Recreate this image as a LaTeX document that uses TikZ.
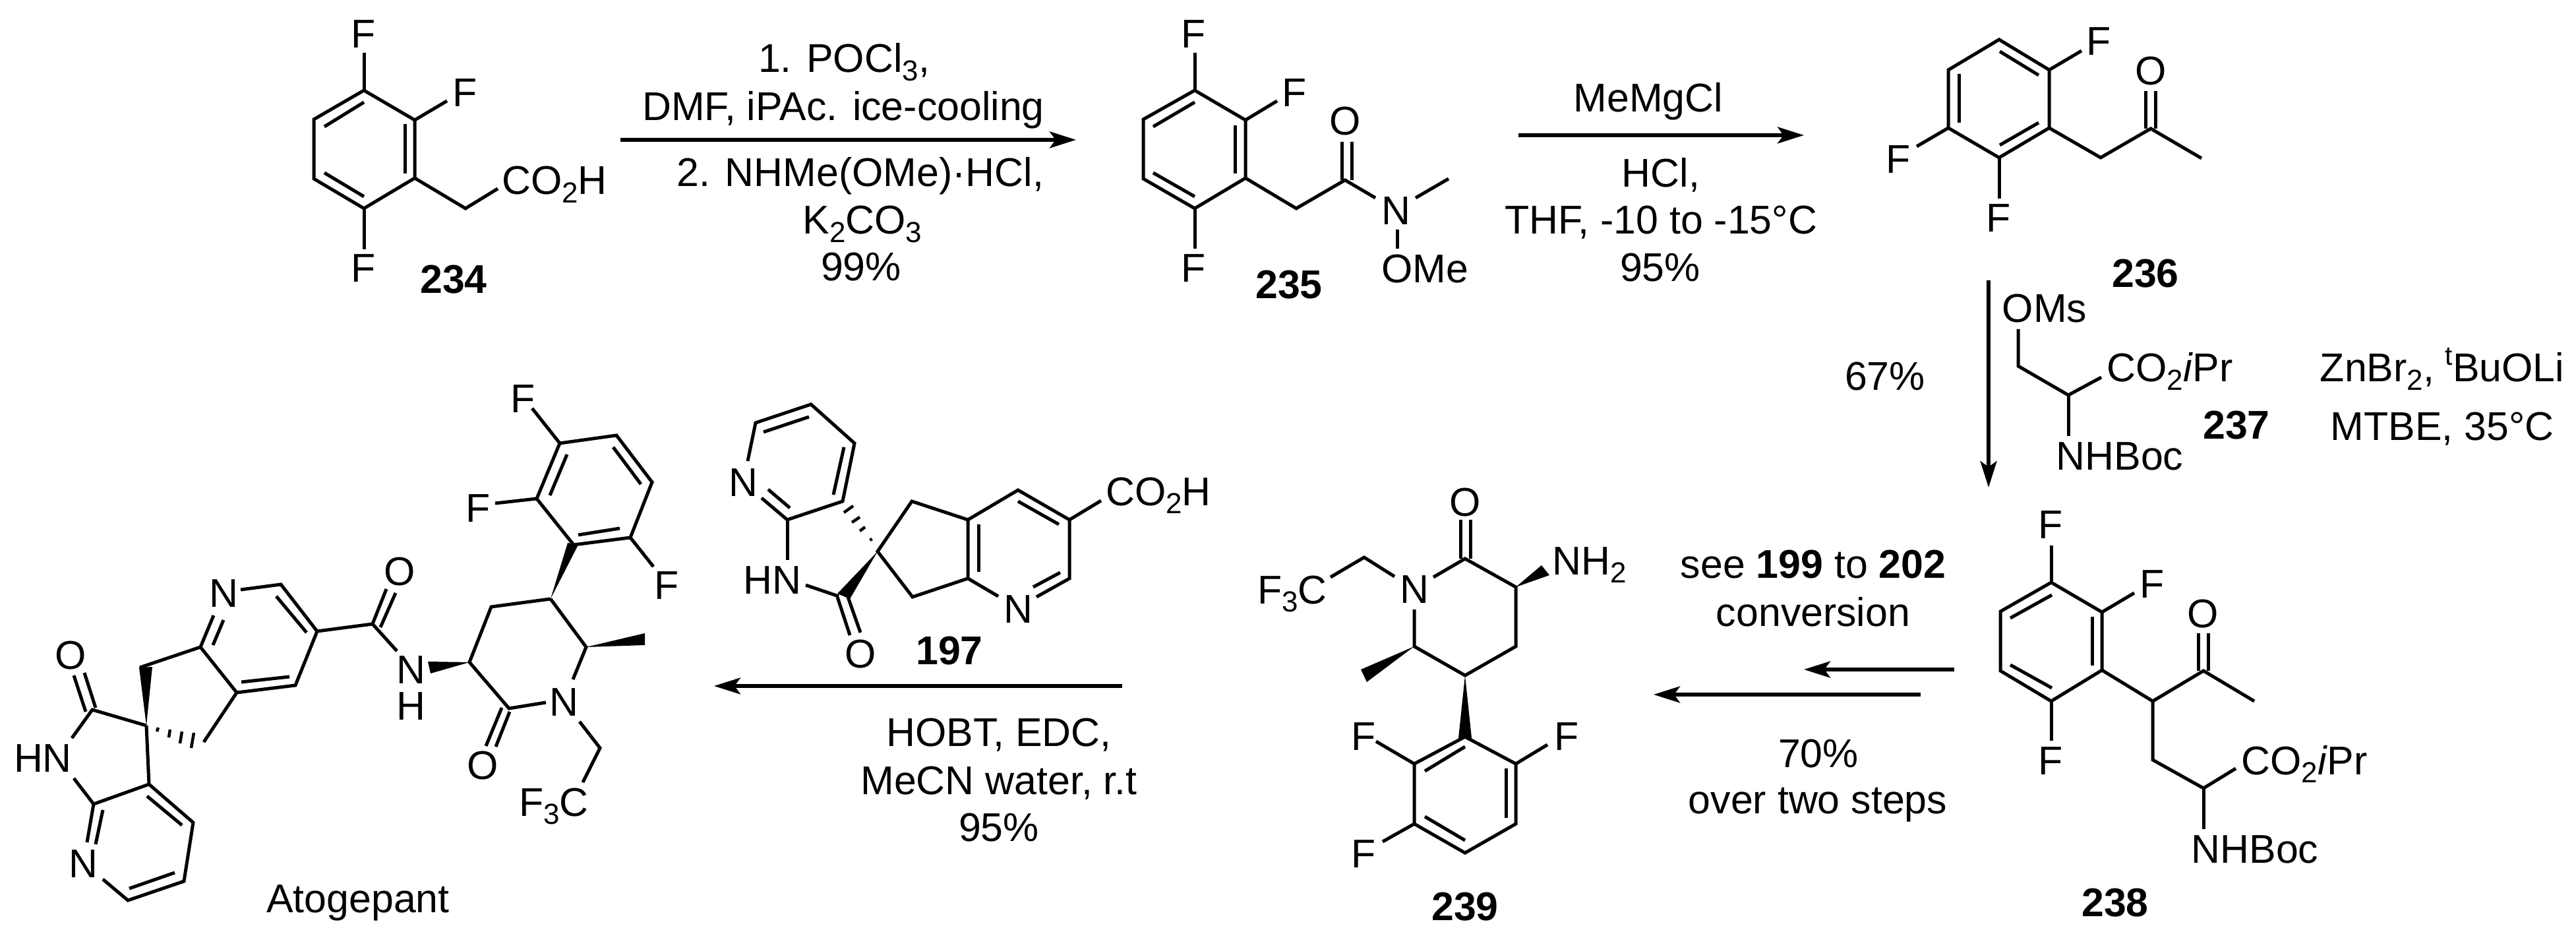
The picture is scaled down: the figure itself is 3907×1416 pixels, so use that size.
\documentclass[tikz,border=0pt]{standalone}
\usepackage{fontspec}
\setmainfont{Liberation Sans}
\usetikzlibrary{arrows.meta}
\newcommand{\chemfont}{\fontsize{17.3}{20}\selectfont}
\newcommand{\subtxt}[1]{\raisebox{-0.21em}{\fontsize{12.5}{14}\selectfont #1}}
\newcommand{\suptxt}[1]{\raisebox{0.42em}{\fontsize{11.5}{14}\selectfont #1}}
\def\wedgebond(#1)(#2)(#3){\fill (#1) -- (#2) -- (#3) -- cycle;}
\tikzset{
	bond/.style={line width=0.05cm},
	hashbond/.style={line width=0.045cm},
	rxnarrow/.style={line width=0.052cm,-{Stealth[length=0.40cm,width=0.25cm,inset=0.09cm]}},
	lab/.style={anchor=base,inner sep=0pt,font=\chemfont},
	cmpd/.style={anchor=base,inner sep=0pt,font=\chemfont\bfseries}
}
\begin{document}
\begin{tikzpicture}[x=0.01cm,y=-0.01cm]
		\useasboundingbox (0,0) rectangle (3907,1416);
		%%%%% 234 %%%%%
		\draw[bond] (552,137) -- (629,182) -- (629,270) -- (552,316) -- (476,271) -- (476,181) -- cycle;
		\draw[bond] (492,192) -- (552,155);
		\draw[bond] (614,188) -- (614,263);
		\draw[bond] (492,262) -- (552,298);
		\draw[bond] (552,137) -- (552,80);
		\draw[bond] (629,182) -- (678,153);
		\draw[bond] (552,316) -- (552,378);
		\draw[bond] (629,270) -- (706,316) -- (755,286);
		\node[lab] (f234a) at (551,73) {F};
		\node[lab] (f234b) at (705,162) {F};
		\node[lab] (f234c) at (551,428) {F};
		\node[lab] (acid234) at (841,295) {CO\subtxt{2}H};
		\node[cmpd] (lab234) at (688,445) {234};
		
		%%%%% FIRST STEP %%%%%
		\coordinate (arrowAs) at (941,212);
		\coordinate (arrowAe) at (1632,212);
		\draw[rxnarrow] (arrowAs) -- (arrowAe);
		\node[lab] (stepAa) at (1280,110) {1. POCl\subtxt{3},};
		\node[lab] (stepAb) at (1279,183) {DMF, iPAc. ice-cooling};
		\node[lab] (stepAc) at (1305,283) {2. NHMe(OMe)·HCl,};
		\node[lab] (stepAd) at (1308,355) {K\subtxt{2}CO\subtxt{3}};
		\node[lab] (stepAe) at (1306,426) {99\%};
		
		%%%%% 235 %%%%%
		\draw[bond] (1812,137) -- (1889,182) -- (1889,270) -- (1812,316) -- (1734,271) -- (1734,181) -- cycle;
		\draw[bond] (1749,192) -- (1812,155);
		\draw[bond] (1873,190) -- (1873,263);
		\draw[bond] (1749,262) -- (1812,298);
		\draw[bond] (1812,137) -- (1812,80);
		\draw[bond] (1889,182) -- (1937,153);
		\draw[bond] (1812,316) -- (1812,377);
		\draw[bond] (1889,270) -- (1966,316) -- (2040,273) -- (2086,300);
		\draw[bond] (2035,273) -- (2035,215);
		\draw[bond] (2050,273) -- (2050,215);
		\draw[bond] (2147,300) -- (2197,271);
		\draw[bond] (2119,348) -- (2119,377);
		\node[lab] (f235a) at (1810,73) {F};
		\node[lab] (f235b) at (1963,162) {F};
		\node[lab] (f235c) at (1810,428) {F};
		\node[lab] (o235) at (2040,205) {O};
		\node[lab] (n235) at (2117,341) {N};
		\node[lab] (ome235) at (2161,429) {OMe};
		\node[cmpd] (lab235) at (1955,453) {235};
		
		%%%%% SECOND STEP %%%%%
		\coordinate (arrowBs) at (2303,205);
		\coordinate (arrowBe) at (2736,205);
		\draw[rxnarrow] (arrowBs) -- (arrowBe);
		\node[lab] (stepBa) at (2500,170) {MeMgCl};
		\node[lab] (stepBb) at (2519,284) {HCl,};
		\node[lab] (stepBc) at (2519,355) {THF, -10 to -15°C};
		\node[lab] (stepBd) at (2518,427) {95\%};
		
		%%%%% 236 %%%%%
		\draw[bond] (3032,60) -- (3108,106) -- (3108,194) -- (3032,239) -- (2955,194) -- (2955,106) -- cycle;
		\draw[bond] (3033,78) -- (3092,114);
		\draw[bond] (2971,112) -- (2971,186);
		\draw[bond] (3033,220) -- (3092,186);
		\draw[bond] (3108,106) -- (3157,77);
		\draw[bond] (2955,194) -- (2907,222);
		\draw[bond] (3032,239) -- (3032,301);
		\draw[bond] (3108,194) -- (3186,239) -- (3262,195) -- (3339,240);
		\draw[bond] (3254,195) -- (3254,138);
		\draw[bond] (3269,195) -- (3269,138);
		\node[lab] (f236a) at (3183,84) {F};
		\node[lab] (f236b) at (2879,263) {F};
		\node[lab] (f236c) at (3031,352) {F};
		\node[lab] (o236) at (3262,129) {O};
		\node[cmpd] (lab236) at (3254,436) {236};
		
		%%%%% THIRD STEP %%%%%
		\coordinate (arrowCs) at (3016,425);
		\coordinate (arrowCe) at (3016,739);
		\draw[rxnarrow] (arrowCs) -- (arrowCe);
		\node[lab] (stepCa) at (2859,592) {67\%};
		\draw[bond] (3061,499) -- (3061,555) -- (3137,599) -- (3187,572);
		\draw[bond] (3137,599) -- (3137,661);
		\node[lab] (oms237) at (3101,489) {OMs};
		\node[lab] (ester237) at (3291,579) {CO\subtxt{2}\textit{i}Pr};
		\node[lab] (boc237) at (3215,712) {NHBoc};
		\node[cmpd] (lab237) at (3392,666) {237};
		\node[lab] (stepCb) at (3704,579) {ZnBr\subtxt{2}, \suptxt{t}BuOLi};
		\node[lab] (stepCc) at (3704,667) {MTBE, 35°C};
		
		%%%%% 238 %%%%%
		\draw[bond] (3111,883) -- (3188,928) -- (3188,1016) -- (3111,1063) -- (3034,1017) -- (3034,927) -- cycle;
		\draw[bond] (3049,937) -- (3112,902);
		\draw[bond] (3173,935) -- (3173,1009);
		\draw[bond] (3049,1008) -- (3112,1043);
		\draw[bond] (3111,883) -- (3111,827);
		\draw[bond] (3188,928) -- (3237,899);
		\draw[bond] (3111,1063) -- (3111,1123);
		\draw[bond] (3188,1016) -- (3265,1063) -- (3342,1017) -- (3419,1063);
		\draw[bond] (3334,1017) -- (3334,960);
		\draw[bond] (3349,1017) -- (3349,960);
		\draw[bond] (3265,1063) -- (3265,1152) -- (3342,1195) -- (3391,1165);
		\draw[bond] (3342,1195) -- (3342,1257);
		\node[lab] (f238a) at (3110,816) {F};
		\node[lab] (f238b) at (3264,906) {F};
		\node[lab] (f238c) at (3110,1174) {F};
		\node[lab] (o238) at (3341,951) {O};
		\node[lab] (ester238) at (3495,1174) {CO\subtxt{2}\textit{i}Pr};
		\node[lab] (boc238) at (3420,1308) {NHBoc};
		\node[cmpd] (lab238) at (3208,1389) {238};
		
		%%%%% FOURTH STEP %%%%%
		\coordinate (arrowDs) at (2964,1015);
		\coordinate (arrowDe) at (2736,1015);
		\draw[rxnarrow] (arrowDs) -- (arrowDe);
		\coordinate (arrowEs) at (2913,1053);
		\coordinate (arrowEe) at (2508,1053);
		\draw[rxnarrow] (arrowEs) -- (arrowEe);
		\node[lab] (stepDa) at (2750,876) {see \textbf{199} to \textbf{202}};
		\node[lab] (stepDb) at (2750,949) {conversion};
		\node[lab] (stepDc) at (2758,1163) {70\%};
		\node[lab] (stepDd) at (2757,1233) {over two steps};
		
		%%%%% 239 %%%%%
		\draw[bond] (2174,875) -- (2222,847) -- (2299,890) -- (2299,980) -- (2222,1024) -- (2145,980) -- (2145,924);
		\draw[bond] (2215,847) -- (2215,788);
		\draw[bond] (2230,847) -- (2230,788);
		\draw[bond] (2115,874) -- (2069,845) -- (2018,875);
		\wedgebond(2299,890)(2350,872)(2338,857)
		\wedgebond(2145,980)(2073,1034)(2064,1015)
		\wedgebond(2222,1024)(2232,1119)(2212,1119)
		\draw[bond] (2222,1117) -- (2299,1158) -- (2299,1249) -- (2222,1293) -- (2145,1249) -- (2145,1158) -- cycle;
		\draw[bond] (2161,1169) -- (2222,1132);
		\draw[bond] (2284,1165) -- (2284,1240);
		\draw[bond] (2161,1238) -- (2222,1274);
		\draw[bond] (2145,1158) -- (2087,1124);
		\draw[bond] (2299,1158) -- (2347,1129);
		\draw[bond] (2145,1249) -- (2097,1276);
		\node[lab] (o239) at (2222,782) {O};
		\node[lab] (n239) at (2145,914) {N};
		\node[lab] (amine239) at (2411,871) {NH\subtxt{2}};
		\node[lab] (cf239) at (1960,915) {F\subtxt{3}C};
		\node[lab] (f239a) at (2068,1137) {F};
		\node[lab] (f239b) at (2376,1137) {F};
		\node[lab] (f239c) at (2068,1315) {F};
		\node[cmpd] (lab239) at (2222,1395) {239};
		
		%%%%% 197 %%%%%
		\draw[bond] (1134,699) -- (1146,641) -- (1230,613) -- (1296,672) -- (1278,760) -- (1194,788) -- (1155,755);
		\draw[bond] (1158,655) -- (1227,632);
		\draw[bond] (1280,678) -- (1264,750);
		\draw[bond] (1165,742) -- (1198,770);
		\draw[bond] (1194,788) -- (1194,849);
		\draw[bond] (1222,887) -- (1272,904);
		\wedgebond(1331,836)(1270,900)(1289,908)
		\draw[bond] (1270,905) -- (1289,963);
		\draw[bond] (1286,905) -- (1305,959);
		\draw[hashbond] (1319.4,819.1) -- (1322.6,816.9);
		\draw[hashbond] (1304,805) -- (1312,799);
		\draw[hashbond] (1292,792) -- (1304,784);
		\draw[hashbond] (1280,777) -- (1294,767);
		\draw[bond] (1331,836) -- (1383,760) -- (1468,788) -- (1468,877) -- (1384,905) -- cycle;
		\draw[bond] (1468,788) -- (1544,743) -- (1622,788) -- (1622,877) -- (1572,905);
		\draw[bond] (1468,877) -- (1514,904);
		\draw[bond] (1484,795) -- (1484,867);
		\draw[bond] (1544,760) -- (1606,795);
		\draw[bond] (1608,868) -- (1567,890);
		\draw[bond] (1622,788) -- (1670,759);
		\node[lab] (n197a) at (1127,752) {N};
		\node[lab] (hn197) at (1171,900) {HN};
		\node[lab] (o197) at (1305,1012) {O};
		\node[lab] (n197b) at (1544,944) {N};
		\node[lab] (acid197) at (1757,766) {CO\subtxt{2}H};
		\node[cmpd] (lab197) at (1440,1007) {197};
		
		%%%%% LAST STEP %%%%%
		\coordinate (arrowFs) at (1702,1040);
		\coordinate (arrowFe) at (1083,1040);
		\draw[rxnarrow] (arrowFs) -- (arrowFe);
		\node[lab] (stepFa) at (1515,1131) {HOBT, EDC,};
		\node[lab] (stepFb) at (1515,1204) {MeCN water, r.t};
		\node[lab] (stepFc) at (1515,1275) {95\%};
		
		%%%%% ATOGEPANT %%%%%
		\draw[bond] (849,672) -- (935,660) -- (989,731) -- (956,815) -- (870,826) -- (814,756) -- cycle;
		\draw[bond] (860,689) -- (834,751);
		\draw[bond] (930,678) -- (972,734);
		\draw[bond] (877,811) -- (940,801);
		\draw[bond] (849,672) -- (807,619);
		\draw[bond] (814,756) -- (751,763);
		\draw[bond] (956,815) -- (991,859);
		\wedgebond(835,908)(861,823)(877,826)
		\draw[bond] (835,908) -- (745,920) -- (712,1004) -- (772,1074) -- (828,1065);
		\draw[bond] (835,908) -- (889,981) -- (869,1030);
		\wedgebond(889,981)(978,960)(978,978)
		\draw[bond] (761,1073) -- (737,1131);
		\draw[bond] (773,1079) -- (752,1132);
		\draw[bond] (879,1094) -- (910,1134) -- (884,1186);
		\wedgebond(712,1004)(649,1003)(653,1021)
		\draw[bond] (602,987) -- (565,946) -- (481,957);
		\draw[bond] (565,946) -- (586,893);
		\draw[bond] (577,951) -- (600,899);
		\draw[bond] (365,894) -- (426,886) -- (481,957) -- (448,1039) -- (359,1050) -- (304,981) -- (324,933);
		\draw[bond] (419,904) -- (465,959);
		\draw[bond] (366,1034) -- (439,1026);
		\draw[bond] (339,940) -- (323,978);
		\draw[bond] (304,981) -- (212,1012);
		\wedgebond(222,1100)(211,1012)(231,1011)
		\draw[bond] (359,1050) -- (309,1125);
		\draw[hashbond] (240,1103) -- (238,1109);
		\draw[hashbond] (258,1106) -- (256,1118);
		\draw[hashbond] (276,1109) -- (273,1127);
		\draw[hashbond] (294,1111) -- (290,1134);
		\draw[bond] (222,1100) -- (140,1076) -- (109,1119);
		\draw[bond] (130,1079) -- (112,1024);
		\draw[bond] (145,1073) -- (128,1020);
		\draw[bond] (112,1180) -- (142,1219) -- (226,1189) -- (222,1100);
		\draw[bond] (226,1189) -- (293,1247) -- (279,1336) -- (194,1365) -- (156,1333);
		\draw[bond] (132,1277) -- (142,1219);
		\draw[bond] (156,1228) -- (145,1280);
		\draw[bond] (223,1207) -- (276,1251);
		\draw[bond] (196,1347) -- (265,1323);
		\node[lab] (f240a) at (793,626) {F};
		\node[lab] (f240b) at (725,791) {F};
		\node[lab] (f240c) at (1011,908) {F};
		\node[lab] (n240a) at (855,1085) {N};
		\node[lab] (o240a) at (732,1181) {O};
		\node[lab] (cf240) at (840,1237) {F\subtxt{3}C};
		\node[lab] (n240b) at (623,1036) {N};
		\node[lab] (h240) at (623,1091) {H};
		\node[lab] (o240b) at (606,887) {O};
		\node[lab] (n240c) at (339,920) {N};
		\node[lab] (o240c) at (107,1014) {O};
		\node[lab] (hn240) at (65,1170) {HN};
		\node[lab] (n240d) at (126,1330) {N};
		\node[lab] (name240) at (543,1383) {Atogepant};
		
		%%%%% END %%%%%
	\end{tikzpicture}
\end{document}
